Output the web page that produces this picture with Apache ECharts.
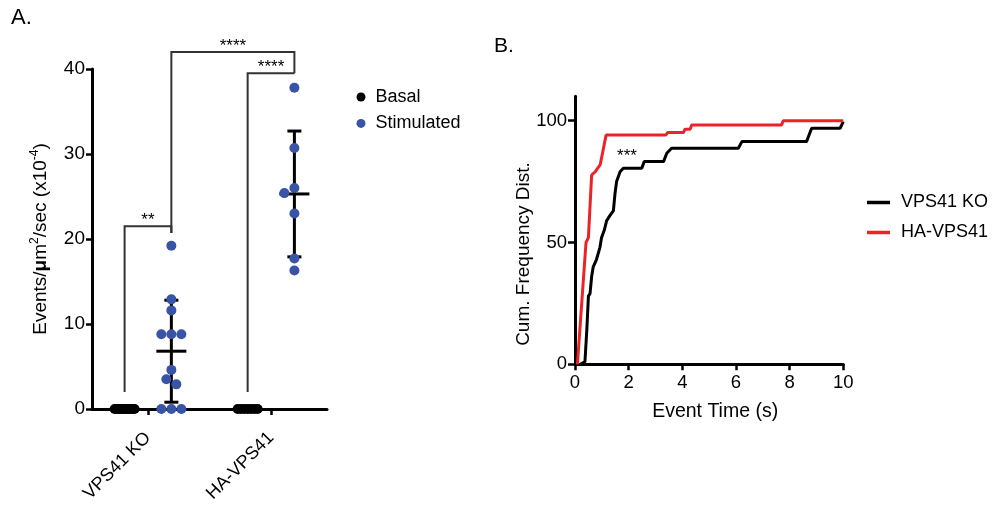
<!DOCTYPE html>
<html>
<head>
<meta charset="utf-8">
<script src="https://cdn.jsdelivr.net/npm/echarts@6/dist/echarts.min.js"></script>
<style>
html, body { margin: 0; padding: 0; background: #fff; }
#main { width: 996px; height: 508px; }
</style>
</head>
<body>
<div id="main"></div>
<script>
// panel A: events per cell
var groups = ['VPS41 KO', 'HA-VPS41'];
var basalKO = [0, 0, 0, 0, 0, 0, 0, 0, 0, 0, 0, 0];
var basalHA = [0, 0, 0, 0, 0, 0, 0];
var stimKO = [19.2, 12.9, 11.6, 8.8, 8.8, 8.8, 4.6, 3.5, 2.9, 0, 0, 0];
var stimHA = [37.8, 30.7, 26.0, 25.4, 23.0, 17.7, 16.3];
var stimMean = [6.8, 25.3];
var stimSD = [6.0, 7.4];

// significance brackets: [group, side] for each end
var sigText = ['**', '****', '****'];
var sigLeft = [[0, -1], [0, 1], [1, -1]];
var sigRight = [[0, 1], [1, 1], [1, 1]];
var sigTop = [21.5, 42.0, 39.5];
var sigLeftEnd = [2.0, 20.7, 2.0];
var sigRightEnd = [20.7, 39.5, 39.5];

// panel B: cumulative frequency (%)
var koTime = [0.19, 0.37, 0.44, 0.50, 0.56, 0.62, 0.68, 0.80, 0.93, 0.99, 1.09, 1.18, 1.30, 1.43, 1.49, 1.55, 1.68, 1.80, 2.49, 2.58, 3.30, 3.42, 3.60, 6.09, 6.22, 8.63, 8.82, 9.88, 10];
var koCum = [0, 1, 14, 28, 29, 36, 40, 43, 48, 52, 55, 59, 61, 63, 70, 75, 79, 80.5, 80.5, 83.2, 83.2, 86.6, 88.7, 88.7, 91.4, 91.4, 96.9, 96.9, 99.6];
var haTime = [0.09, 0.41, 0.50, 0.62, 0.75, 0.94, 1.16, 3.39, 3.45, 4.04, 4.10, 4.29, 4.35, 7.70, 7.76, 10];
var haCum = [0, 50, 52, 77.7, 79, 82, 94.1, 94.1, 95.1, 95.1, 96.5, 96.5, 98.2, 98.2, 100, 100];

var FONT = '"Liberation Sans", Arial, sans-serif';
var SIDE = 0.19;          // basal / stimulated offset from group centre
var PX_PER_UNIT = 340 / 40;
var BLUE = '#3953a5';
var RED = '#eb2228';

// spread dots sideways like a scatter dot plot (offsets in px)
function swarm(vals) {
    var r = 10, placed = [], out = [], counts = {}, seen = {};
    vals.forEach(function (v) { counts[v] = (counts[v] || 0) + 1; });
    vals.forEach(function (v) {
        var n = counts[v], dx;
        if (n > 1) {
            var step = Math.min(r, 20 / (n - 1));
            var k = seen[v] = (seen[v] === undefined ? 0 : seen[v] + 1);
            dx = (k - (n - 1) / 2) * step;
        } else {
            var cands = [0, -5, 5, -10, 10, -15, 15];
            dx = cands.find(function (c) {
                return placed.every(function (p) {
                    return Math.hypot(p[0] - c, (p[1] - v) * PX_PER_UNIT) >= r - 0.01;
                });
            });
            if (dx === undefined) dx = 0;
        }
        placed.push([dx, v]);
        out.push(dx);
    });
    return out;
}

function dots(vals, x) {
    var off = swarm(vals);
    return vals.map(function (v, i) {
        return { value: [x, v], symbolOffset: [off[i], 0] };
    });
}

var basalData = dots(basalKO, 0 - SIDE).concat(dots(basalHA, 1 - SIDE));
var stimData = dots(stimKO, 0 + SIDE).concat(dots(stimHA, 1 + SIDE));

var errData = stimMean.map(function (m, i) { return [i + SIDE, m, stimSD[i]]; });

var sigData = sigText.map(function (t, i) {
    return [sigLeft[i][0] + sigLeft[i][1] * SIDE, sigRight[i][0] + sigRight[i][1] * SIDE,
        sigTop[i], sigLeftEnd[i], sigRightEnd[i]];
});

function zip(a, b) { return a.map(function (v, i) { return [v, b[i]]; }); }

var myChart = echarts.init(document.getElementById('main'));

var axisLine = { show: true, onZero: false, lineStyle: { color: '#000', width: 3 } };

var option = {
    animation: false,
    textStyle: { fontFamily: FONT, color: '#000' },
    grid: [
        { left: 92, top: 69, width: 235, height: 340 },
        { left: 575, top: 96.3, width: 268.3, height: 268 }
    ],
    legend: [
        {
            orient: 'vertical', left: 351.5, top: 83, icon: 'circle',
            itemWidth: 19, itemHeight: 9, itemGap: 8.4,
            data: ['Basal', 'Stimulated'],
            textStyle: { fontSize: 18, color: '#000', fontFamily: FONT }
        },
        {
            orient: 'vertical', left: 862, top: 188.5, icon: 'rect',
            itemWidth: 23, itemHeight: 3.5, itemGap: 12,
            data: ['VPS41 KO', 'HA-VPS41'],
            textStyle: { fontSize: 18, color: '#000', fontFamily: FONT, padding: [0, 0, 0, 6] }
        }
    ],
    xAxis: [
        {
            type: 'value', gridIndex: 0, min: -0.455, max: 1.455,
            axisLine: axisLine,
            axisTick: { show: true, customValues: [0, 1], length: 6, lineStyle: { width: 2.5, color: '#000' } },
            axisLabel: {
                customValues: [0, 1], rotate: 45, margin: 26, fontSize: 18, color: '#000',
                formatter: function (v) { return groups[Math.round(v)]; }
            },
            splitLine: { show: false }
        },
        {
            type: 'value', gridIndex: 1, min: 0, max: 10, interval: 2,
            axisLine: axisLine,
            axisTick: { show: true, length: 6, lineStyle: { width: 2.5, color: '#000' } },
            axisLabel: { fontSize: 18.5, color: '#000', margin: 9 },
            splitLine: { show: false },
            name: 'Event Time (s)', nameLocation: 'middle', nameGap: 37,
            nameTextStyle: { fontSize: 19.5, color: '#000', padding: [0, 0, 0, 12] }
        }
    ],
    yAxis: [
        {
            type: 'value', gridIndex: 0, min: 0, max: 40, interval: 10,
            axisLine: axisLine,
            axisTick: { show: true, length: 6, lineStyle: { width: 2.5, color: '#000' } },
            axisLabel: { fontSize: 19, color: '#000', margin: 7 },
            splitLine: { show: false },
            name: '{t|Events/}{b|\u03bc}{t|m}{s|2}{t|/sec (x10}{s|-4}{t|)}',
            nameLocation: 'middle', nameRotate: 90, nameGap: 42,
            nameTextStyle: {
                rich: {
                    t: { fontSize: 19, color: '#000', fontFamily: FONT, lineHeight: 21, verticalAlign: 'bottom' },
                    b: { fontSize: 19, color: '#000', fontFamily: FONT, fontWeight: 'bold', lineHeight: 21, verticalAlign: 'bottom' },
                    s: { fontSize: 12, color: '#000', fontFamily: FONT, lineHeight: 21, verticalAlign: 'top' }
                }
            }
        },
        {
            type: 'value', gridIndex: 1, min: 0, max: 110,
            axisLine: axisLine,
            axisTick: { show: true, customValues: [0, 50, 100], length: 7, lineStyle: { width: 2.5, color: '#000' } },
            axisLabel: { customValues: [0, 50, 100], fontSize: 18.5, color: '#000', margin: 8 },
            splitLine: { show: false }
        }
    ],
    graphic: [
        { type: 'text', left: 11, top: 7, style: { text: 'A.', fontSize: 22, fill: '#000', font: '22px ' + FONT } },
        { type: 'text', left: 494, top: 36, style: { text: 'B.', fontSize: 21, fill: '#000', font: '21px ' + FONT } },
        {
            type: 'text', x: 524, y: 254, rotation: Math.PI / 2,
            style: { text: 'Cum. Frequency Dist.', font: '19px ' + FONT, fill: '#000', align: 'center', verticalAlign: 'middle' }
        },
        {
            type: 'text', x: 627, y: 156,
            style: { text: '***', font: '17px ' + FONT, fill: '#000', align: 'center', verticalAlign: 'middle' }
        }
    ],
    series: [
        {
            name: 'Basal', type: 'scatter', xAxisIndex: 0, yAxisIndex: 0,
            symbolSize: 10, itemStyle: { color: '#000', opacity: 1 }, z: 4,
            data: basalData
        },
        {
            name: 'Stimulated', type: 'scatter', xAxisIndex: 0, yAxisIndex: 0,
            symbolSize: 10, itemStyle: { color: BLUE, opacity: 1 }, z: 4,
            data: stimData
        },
        {
            type: 'custom', xAxisIndex: 0, yAxisIndex: 0, z: 3, clip: false,
            data: errData,
            encode: { x: 0, y: 1 },
            renderItem: function (params, api) {
                var x = api.value(0), m = api.value(1), sd = api.value(2);
                var c = api.coord([x, m]), hi = api.coord([x, m + sd]), lo = api.coord([x, m - sd]);
                var st = { stroke: '#000', lineWidth: 3 };
                return {
                    type: 'group', children: [
                        { type: 'line', shape: { x1: hi[0], y1: hi[1], x2: lo[0], y2: lo[1] }, style: st },
                        { type: 'line', shape: { x1: c[0] - 15, y1: c[1], x2: c[0] + 15, y2: c[1] }, style: st },
                        { type: 'line', shape: { x1: hi[0] - 7, y1: hi[1], x2: hi[0] + 7, y2: hi[1] }, style: st },
                        { type: 'line', shape: { x1: lo[0] - 7, y1: lo[1], x2: lo[0] + 7, y2: lo[1] }, style: st }
                    ]
                };
            }
        },
        {
            type: 'custom', xAxisIndex: 0, yAxisIndex: 0, z: 3, clip: false,
            data: sigData,
            encode: { x: [0, 1], y: [2, 3, 4] },
            renderItem: function (params, api) {
                var l = api.value(0), r = api.value(1), top = api.value(2);
                var a = api.coord([l, api.value(3)]), b = api.coord([l, top]);
                var c = api.coord([r, top]), d = api.coord([r, api.value(4)]);
                return {
                    type: 'group', children: [
                        {
                            type: 'polyline',
                            shape: { points: [a, b, c, d] },
                            style: { stroke: '#333', lineWidth: 2, fill: null }
                        },
                        {
                            type: 'text', x: (b[0] + c[0]) / 2, y: b[1] - 6,
                            style: {
                                text: sigText[params.dataIndex], font: '17px ' + FONT, fill: '#000',
                                align: 'center', verticalAlign: 'middle'
                            }
                        }
                    ]
                };
            }
        },
        {
            name: 'VPS41 KO', type: 'line', xAxisIndex: 1, yAxisIndex: 1,
            showSymbol: false, symbol: 'none',
            lineStyle: { color: '#000', width: 3 }, itemStyle: { color: '#000' },
            data: zip(koTime, koCum)
        },
        {
            name: 'HA-VPS41', type: 'line', xAxisIndex: 1, yAxisIndex: 1,
            showSymbol: false, symbol: 'none',
            lineStyle: { color: RED, width: 3 }, itemStyle: { color: RED },
            data: zip(haTime, haCum)
        }
    ]
};

myChart.setOption(option);
</script>
</body>
</html>
